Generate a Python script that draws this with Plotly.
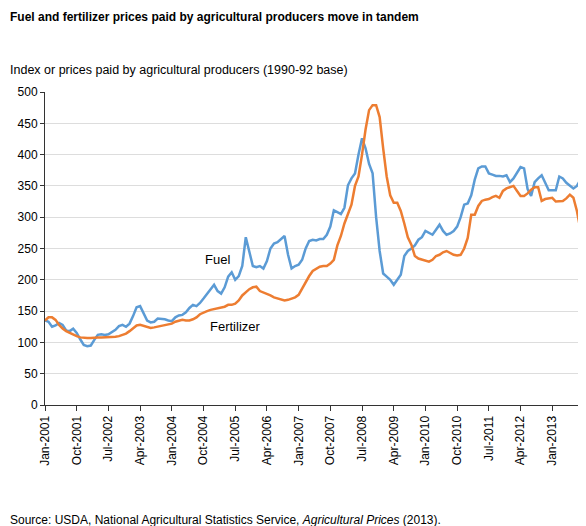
import plotly.graph_objects as go

mon = ["Jan","Feb","Mar","Apr","May","Jun","Jul","Aug","Sep","Oct","Nov","Dec"]
months = [f"{m}-{y}" for y in range(2001, 2014) for m in mon]

fuel = [135,133,125,127,131,128,119,118,122,115,105,96,
        94,95,104,112,113,112,113,116,120,126,128,125,
        130,142,156,158,145,135,132,133,138,138,137,135,
        134,140,143,144,148,155,160,158,163,170,178,186,
        192,182,178,188,205,212,200,206,222,268,245,222,
        220,222,218,230,250,258,260,265,270,240,218,222,
        224,232,250,262,264,263,265,265,272,285,311,308,
        305,315,351,362,370,400,426,410,385,370,300,246,
        210,205,200,192,200,208,238,246,250,255,264,268,
        278,275,272,280,288,278,272,274,278,285,300,320,
        322,335,360,378,381,381,370,368,366,366,365,367,
        356,362,370,380,378,345,334,356,362,367,355,343,
        343,343,365,362,355,351,346,350,360,365,356,365]

fert = [135,140,140,136,128,122,118,115,112,110,108,107,
        107,107,108,108,108,108,108,108,109,110,112,114,
        118,122,127,128,126,124,123,124,125,126,127,128,
        130,133,135,136,135,135,137,140,145,148,150,152,
        153,155,155,157,160,160,162,167,175,180,185,188,
        189,182,180,178,175,172,170,168,167,168,170,172,
        176,186,198,206,214,218,221,222,222,226,232,255,
        270,290,304,320,350,365,400,440,471,479,479,460,
        410,365,335,323,323,310,290,268,256,238,234,232,
        230,229,232,238,240,244,246,243,240,239,240,250,
        267,304,304,318,326,328,329,332,334,331,342,346,
        348,350,342,334,334,338,344,348,348,326,329,330,
        331,325,325,326,330,336,331,310,280,280,280,279]

tick_labels = months[::9]
y_ticks = list(range(0, 501, 50))

fig = go.Figure()
fig.add_trace(go.Scatter(x=months, y=fuel, mode="lines", name="Fuel",
                         line=dict(color="#5b9bd5", width=2.5)))
fig.add_trace(go.Scatter(x=months, y=fert, mode="lines", name="Fertilizer",
                         line=dict(color="#ed7d31", width=2.5)))

fig.update_layout(
    width=586, height=526, showlegend=False,
    margin=dict(l=37, r=3, t=84, b=129),
    plot_bgcolor="white", paper_bgcolor="white",
    font=dict(family="Liberation Sans, Arial", size=12, color="#000"),
    xaxis=dict(type="category", range=[0, len(months) - 1], automargin=False,
               tickmode="array", tickvals=tick_labels, ticktext=tick_labels,
               tickangle=-90, ticks="outside", ticklen=5, tickcolor="#333",
               showline=True, linecolor="#333", showgrid=False,
               tickfont=dict(size=12)),
    yaxis=dict(range=[0, 500], tickvals=y_ticks, ticks="outside", ticklen=4,
               automargin=False,
               tickcolor="#333", showline=True, linecolor="#333",
               gridcolor="#dddddd", tickfont=dict(size=12)),
    annotations=[
        dict(text="<b>Fuel and fertilizer prices paid by agricultural producers move in tandem</b>",
             xref="paper", yref="paper", x=-37/546, y=1 + 75/313, xanchor="left", yanchor="middle",
             showarrow=False, font=dict(size=12)),
        dict(text="Index or prices paid by agricultural producers (1990-92 base)",
             xref="paper", yref="paper", x=-37/546, y=1 + 22/313, xanchor="left", yanchor="middle",
             showarrow=False, font=dict(size=12.5)),
        dict(text="Source: USDA, National Agricultural Statistics Service, <i>Agricultural Prices</i> (2013).",
             xref="paper", yref="paper", x=-37/546, y=-115/313, xanchor="left", yanchor="middle",
             showarrow=False, font=dict(size=12)),
        dict(text="Fuel", x=months[49], y=233, showarrow=False, font=dict(size=13)),
        dict(text="Fertilizer", x=months[54], y=126, showarrow=False, font=dict(size=13)),
    ],
)
fig.write_html("out.html")
